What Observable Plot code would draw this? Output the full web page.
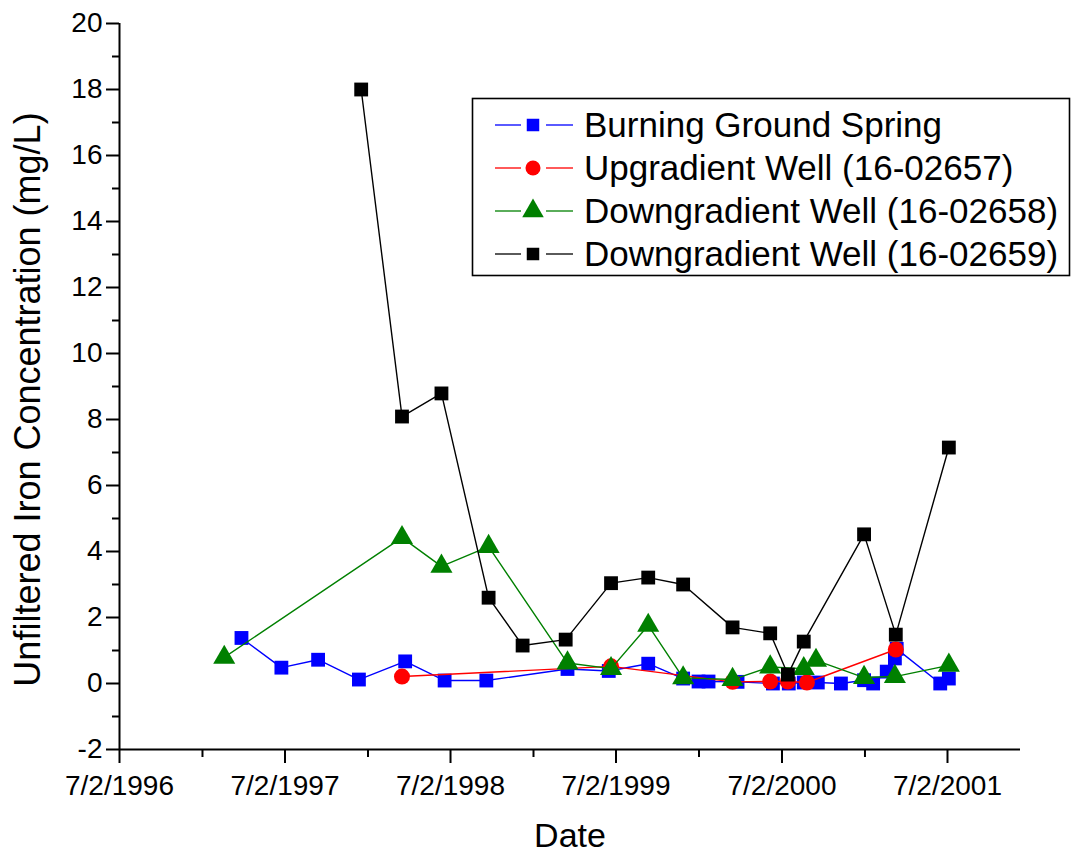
<!DOCTYPE html>
<html>
<head>
<meta charset="utf-8">
<script src="https://cdn.jsdelivr.net/npm/d3@7"></script>
<script src="https://cdn.jsdelivr.net/npm/@observablehq/plot@0.6"></script>
<style>
  html, body { margin: 0; padding: 0; background: #fff; }
  #wrap { position: relative; width: 1073px; height: 855px; font-family: "Liberation Sans", Arial, sans-serif; }
  #legend { position: absolute; left: 0; top: 0; }
</style>
</head>
<body>
<div id="wrap"></div>
<script>
// ---- Data ----
const seriesNames = [
  "Burning Ground Spring",
  "Upgradient Well (16-02657)",
  "Downgradient Well (16-02658)",
  "Downgradient Well (16-02659)"
];
const seriesColors = ["#0000ff", "#ff0000", "#008000", "#000000"];
const seriesSymbols = ["square", "circle", "triangle", "square"];

const springDates = ["1997-03-28","1997-06-24","1997-09-13","1997-12-12","1998-03-24","1998-06-19","1998-09-19",
  "1999-03-17","1999-06-16","1999-09-11","1999-11-27","1999-12-31","2000-01-22","2000-03-26","2000-06-12",
  "2000-07-17","2000-08-19","2000-09-19","2000-11-09","2000-12-30","2001-01-19","2001-02-18","2001-03-08",
  "2001-03-12","2001-06-16","2001-07-05"];
const springValues = [1.38,0.48,0.72,0.12,0.67,0.09,0.09,
  0.44,0.38,0.60,0.15,0.06,0.06,0.05,0.0,
  0.0,0.03,0.03,0.0,0.10,0.0,0.36,0.76,
  1.05,0.0,0.15];

const upDates = ["1998-03-17","1999-06-21","2000-03-15","2000-06-06","2000-07-15","2000-08-26","2001-03-10"];
const upValues = [0.21,0.52,0.05,0.06,0.06,0.03,1.03];

const down58Dates = ["1997-02-18","1998-03-17","1998-06-12","1998-09-24","1999-03-17","1999-06-21","1999-09-11",
  "1999-11-27","2000-03-15","2000-06-06","2000-08-19","2000-09-15","2000-12-30","2001-03-08","2001-07-05"];
const down58Values = [0.79,4.42,3.55,4.15,0.62,0.45,1.76,
  0.17,0.12,0.50,0.45,0.70,0.18,0.21,0.55];

const down59Dates = ["1997-12-17","1998-03-17","1998-06-12","1998-09-24","1998-12-08","1999-03-13","1999-06-21",
  "1999-09-11","1999-11-27","2000-03-15","2000-06-06","2000-07-15","2000-08-19","2000-12-30","2001-03-10","2001-07-05"];
const down59Values = [18.0,8.09,8.79,2.60,1.15,1.33,3.04,
  3.21,3.00,1.70,1.52,0.27,1.27,4.52,1.48,7.15];

const xTickDates = ["1996-07-02","1997-07-02","1998-07-02","1999-07-02","2000-07-02","2001-07-02"];
const xMinorDates = ["1997-01-01","1998-01-01","1999-01-01","2000-01-01","2001-01-01"];
const xDomainDates = ["1996-07-02","2001-12-10"];
const yTicks = [-2,0,2,4,6,8,10,12,14,16,18,20];
const yMinorTicks = [-1,1,3,5,7,9,11,13,15,17,19];
const yDomain = [-2, 20];

const xTitle = "Date";
const yTitle = "Unfiltered Iron Concentration (mg/L)";

// ---- Build tables ----
const parse = s => new Date(s + "T00:00:00Z");
const allDates = [springDates, upDates, down58Dates, down59Dates];
const allValues = [springValues, upValues, down58Values, down59Values];
const series = allDates.map((ds, i) => ds.map((d, j) => ({date: parse(d), value: allValues[i][j], name: seriesNames[i]})));

const fmt = d => `${d.getUTCMonth() + 1}/${d.getUTCDate()}/${d.getUTCFullYear()}`;

const marks = [
  Plot.ruleY([yDomain[0]], {stroke: "black", strokeWidth: 2}),
  Plot.ruleX([parse(xDomainDates[0])], {stroke: "black", strokeWidth: 2}),
  Plot.axisX({ticks: xTickDates.map(parse), tickSize: 14, tickPadding: 12, tickFormat: fmt, fontSize: 28, label: null, strokeWidth: 2}),
  Plot.axisX({ticks: xMinorDates.map(parse), tickSize: 8, tickFormat: () => "", label: null, strokeWidth: 2}),
  Plot.axisY({ticks: yTicks, tickSize: 13, tickPadding: 4, tickFormat: d => String(d), fontSize: 28, label: null, strokeWidth: 2}),
  Plot.axisY({ticks: yMinorTicks, tickSize: 7, tickFormat: () => "", label: null, strokeWidth: 2}),
  Plot.text([yTitle], {frameAnchor: "left", dx: -91, dy: 13, rotate: -90, fontSize: 36, textAnchor: "middle", lineAnchor: "middle", fill: "black"}),
  Plot.text([xTitle], {frameAnchor: "bottom", dy: 87, fontSize: 34, textAnchor: "middle", lineAnchor: "middle", fill: "black"})
];
series.forEach((rows, i) => {
  marks.push(Plot.line(rows, {x: "date", y: "value", stroke: seriesColors[i], strokeWidth: 1.4}));
  const r = seriesSymbols[i] === "circle" ? 8 : (seriesSymbols[i] === "triangle" ? 8.2 : 7.8);
  marks.push(Plot.dot(rows, {x: "date", y: "value", symbol: seriesSymbols[i], r, fill: seriesColors[i], stroke: "none"}));
});

const chart = Plot.plot({
  width: 1073,
  height: 855,
  marginLeft: 119,
  marginRight: 53,
  marginTop: 23,
  marginBottom: 106,
  x: {type: "utc", domain: xDomainDates.map(parse)},
  y: {domain: yDomain},
  style: {fontFamily: "'Liberation Sans', Arial, sans-serif", color: "black", background: "white"},
  marks
});
const wrap = document.getElementById("wrap");
wrap.appendChild(chart);

// ---- Legend (overlay) ----
const ns = "http://www.w3.org/2000/svg";
const lg = document.createElementNS(ns, "svg");
lg.setAttribute("id", "legend");
lg.setAttribute("width", 1073);
lg.setAttribute("height", 855);
lg.style.pointerEvents = "none";
const box = document.createElementNS(ns, "rect");
box.setAttribute("x", 472.5); box.setAttribute("y", 98.5);
box.setAttribute("width", 597); box.setAttribute("height", 177);
box.setAttribute("fill", "white"); box.setAttribute("stroke", "black"); box.setAttribute("stroke-width", 1.6);
lg.appendChild(box);
const rowY = [125, 168, 211, 254];
seriesNames.forEach((name, i) => {
  const y = rowY[i];
  [[495, 521], [546, 573]].forEach(([a, b]) => {
    const l = document.createElementNS(ns, "line");
    l.setAttribute("x1", a); l.setAttribute("x2", b); l.setAttribute("y1", y); l.setAttribute("y2", y);
    l.setAttribute("stroke", seriesColors[i]); l.setAttribute("stroke-width", 1.3);
    lg.appendChild(l);
  });
  const sym = {square: d3.symbolSquare, circle: d3.symbolCircle, triangle: d3.symbolTriangle}[seriesSymbols[i]];
  const size = seriesSymbols[i] === "square" ? 12.5 * 12.5 : (seriesSymbols[i] === "circle" ? Math.PI * 7.5 * 7.5 : Math.PI * 8 * 8);
  const p = document.createElementNS(ns, "path");
  p.setAttribute("d", d3.symbol(sym, size)());
  p.setAttribute("transform", `translate(533,${y})`);
  p.setAttribute("fill", seriesColors[i]);
  lg.appendChild(p);
  const t = document.createElementNS(ns, "text");
  t.setAttribute("x", 584); t.setAttribute("y", y); t.setAttribute("dy", "0.35em");
  t.setAttribute("font-size", 35); t.setAttribute("fill", "black");
  t.setAttribute("font-family", "'Liberation Sans', Arial, sans-serif");
  t.textContent = name;
  lg.appendChild(t);
});
wrap.appendChild(lg);
</script>
</body>
</html>
